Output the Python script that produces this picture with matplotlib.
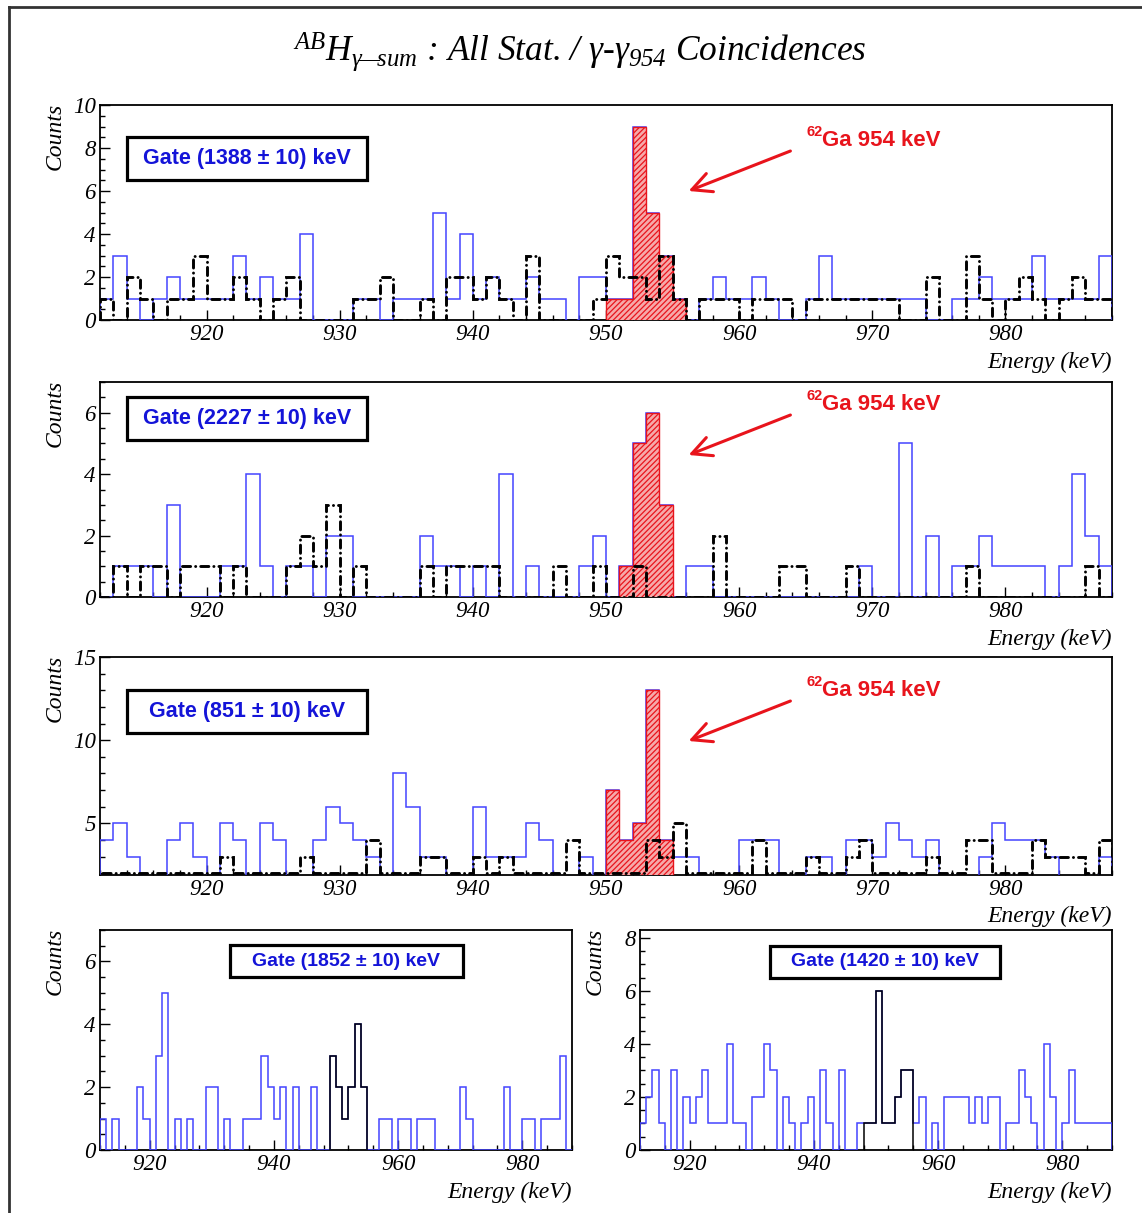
import numpy as np
import matplotlib
matplotlib.use("Agg")
import matplotlib.pyplot as plt
from matplotlib.patches import Rectangle, FancyArrowPatch
from matplotlib.lines import Line2D
from matplotlib.ticker import MultipleLocator

# bin edges (1 keV bins, 912..988 keV)
edges = np.arange(912, 989)

# ---- gate 1388 keV
g1388 = [1, 3, 1, 0, 1, 2, 1, 1, 1, 1,
         3, 1, 2, 1, 1, 4, 0, 0, 0, 1,
         1, 0, 1, 1, 1, 5, 1, 4, 1, 2,
         1, 1, 2, 1, 1, 0, 2, 2, 1, 1,
         9, 5, 3, 1, 0, 1, 2, 1, 1, 2,
         1, 0, 0, 1, 3, 1, 1, 1, 1, 1,
         1, 1, 0, 0, 1, 1, 2, 1, 1, 1,
         3, 1, 1, 1, 1, 3]
bg1388 = [1, 0, 2, 1, 0, 1, 1, 3, 1, 1,
          2, 1, 0, 1, 2, 0, 0, 0, 0, 1,
          1, 2, 0, 0, 1, 0, 2, 2, 1, 2,
          1, 0, 3, 0, 0, 0, 0, 1, 3, 2,
          2, 1, 3, 1, 0, 1, 1, 1, 0, 1,
          1, 1, 0, 1, 1, 1, 1, 1, 1, 1,
          0, 0, 2, 0, 0, 3, 1, 0, 1, 2,
          1, 0, 1, 2, 1, 1]

# ---- gate 2227 keV
g2227 = [0, 1, 1, 1, 0, 3, 0, 0, 0, 1,
         1, 4, 1, 0, 1, 1, 0, 2, 2, 0,
         0, 0, 0, 0, 2, 1, 1, 0, 1, 0,
         4, 0, 1, 0, 0, 0, 1, 2, 0, 1,
         5, 6, 3, 0, 1, 1, 0, 0, 0, 0,
         0, 0, 0, 0, 0, 0, 0, 1, 0, 0,
         5, 0, 2, 0, 1, 1, 2, 1, 1, 1,
         1, 0, 1, 4, 2, 1]
bg2227 = [0, 1, 0, 1, 1, 0, 1, 1, 1, 0,
          1, 0, 0, 0, 1, 2, 1, 3, 0, 1,
          0, 0, 0, 0, 1, 0, 1, 1, 1, 1,
          0, 0, 0, 0, 1, 0, 0, 1, 0, 0,
          1, 0, 0, 0, 0, 0, 2, 0, 0, 0,
          0, 1, 1, 0, 0, 0, 1, 0, 0, 0,
          0, 0, 0, 0, 0, 1, 0, 0, 0, 0,
          0, 0, 0, 0, 1, 0]

# ---- gate 851 keV
g851 = [4, 5, 3, 0, 0, 4, 5, 3, 0, 5,
        4, 0, 5, 4, 0, 0, 4, 6, 5, 4,
        3, 0, 8, 6, 3, 3, 0, 0, 6, 3,
        3, 3, 5, 4, 0, 0, 3, 0, 7, 4,
        5, 13, 4, 3, 3, 0, 0, 0, 4, 4,
        4, 0, 0, 3, 3, 0, 4, 4, 3, 5,
        4, 3, 4, 0, 0, 0, 3, 5, 4, 4,
        4, 3, 0, 0, 0, 3]
bg851 = [2, 2, 2, 2, 2, 2, 2, 2, 2, 3,
         2, 2, 2, 2, 2, 3, 2, 2, 2, 2,
         4, 2, 2, 2, 3, 3, 2, 2, 3, 2,
         3, 2, 2, 2, 2, 4, 2, 2, 2, 2,
         2, 4, 3, 5, 2, 2, 2, 2, 2, 4,
         2, 2, 2, 3, 2, 2, 3, 4, 2, 2,
         2, 2, 3, 2, 2, 4, 4, 2, 2, 2,
         4, 3, 3, 3, 2, 4]

# ---- gate 1852 keV
g1852 = [1, 0, 1, 0, 0, 0, 2, 1, 0, 3,
         5, 0, 1, 0, 1, 0, 0, 2, 2, 0,
         1, 0, 0, 1, 1, 1, 3, 2, 1, 2,
         0, 2, 0, 0, 2, 0, 0, 3, 2, 1,
         2, 4, 2, 0, 0, 1, 1, 0, 1, 1,
         0, 1, 1, 1, 0, 0, 0, 0, 2, 1,
         0, 0, 0, 0, 0, 2, 0, 0, 1, 1,
         0, 1, 1, 1, 3, 0]

# ---- gate 1420 keV
g1420 = [1, 2, 3, 1, 0, 3, 0, 2, 1, 2,
         3, 1, 1, 1, 4, 1, 1, 0, 2, 2,
         4, 3, 0, 2, 1, 0, 1, 2, 0, 3,
         1, 0, 3, 0, 0, 1, 1, 1, 6, 1,
         1, 2, 3, 3, 1, 2, 0, 1, 0, 2,
         2, 2, 2, 1, 2, 1, 2, 2, 0, 1,
         1, 3, 2, 1, 0, 4, 2, 0, 1, 3,
         1, 1, 1, 1, 1, 1]

# peak windows (keV) highlighted in each panel
peak1388 = (950, 956)
peak2227 = (951, 955)
peak851 = (950, 955)
peak1852 = (949, 955)
peak1420 = (948, 956)

W, H = 1142, 1213
fig = plt.figure(figsize=(W / 100, H / 100), dpi=100)

SERIF = "Liberation Serif"
SANS = "Liberation Sans"
BLUE = "#4444ff"
RED = "#e8141c"
plt.rcParams["mathtext.fontset"] = "custom"
plt.rcParams["mathtext.it"] = "Liberation Serif:italic"
plt.rcParams["mathtext.rm"] = "Liberation Serif:italic"
plt.rcParams["mathtext.sf"] = "Liberation Serif:italic"
plt.rcParams["hatch.linewidth"] = 0.9


def fx(x):
    return x / W


def fy(y):
    return 1 - y / H


def make_axes(x0, y0, x1, y1, ylim, ymaj, ymin, xmaj):
    ax = fig.add_axes([fx(x0), fy(y1), (x1 - x0) / W, (y1 - y0) / H])
    ax.set_xlim(912, 988)
    ax.set_ylim(*ylim)
    ax.xaxis.set_major_locator(MultipleLocator(xmaj))
    ax.xaxis.set_minor_locator(MultipleLocator(2 if xmaj == 10 else 4))
    ax.yaxis.set_major_locator(MultipleLocator(ymaj))
    ax.yaxis.set_minor_locator(MultipleLocator(ymin))
    ax.tick_params(which="both", direction="in", top=False, right=False)
    ax.tick_params(which="major", length=7, width=1, pad=3)
    ax.tick_params(which="minor", length=3.5, width=1)
    for lab in ax.get_xticklabels() + ax.get_yticklabels():
        lab.set_fontfamily(SERIF)
        lab.set_fontstyle("italic")
        lab.set_fontsize(16.5)
    for s in ax.spines.values():
        s.set_linewidth(1.3)
    return ax


def dashed_bg(ax, vals):
    p = ax.stairs(vals, edges, edgecolor="black", linewidth=2.1,
                  linestyle=(0, (2.8, 1.7, 0.05, 1.7)), zorder=5)
    p.set_capstyle("round")


def peak_fill(ax, vals, win):
    lo, hi = win
    sel = slice(lo - 912, hi - 912)
    ax.stairs(np.array(vals)[sel], edges[lo - 912:hi - 912 + 1], fill=True,
              facecolor="#f6a9a9", edgecolor=RED, hatch="//////",
              linewidth=1.0, zorder=4)


def gate_box(x0, y0, x1, y1, text, size):
    fig.add_artist(Rectangle((fx(x0), fy(y1)), (x1 - x0) / W, (y1 - y0) / H,
                             transform=fig.transFigure, facecolor="white",
                             edgecolor="black", linewidth=2.3, zorder=10))
    fig.text(fx((x0 + x1) / 2), fy((y0 + y1) / 2), text, ha="center", va="center",
             color="#1414d8", fontfamily=SANS, fontweight="bold", fontsize=size, zorder=11)


def ga_label(y):
    fig.text(fx(806), fy(y - 9), "62", ha="left", va="center", color=RED,
             fontfamily=SANS, fontweight="bold", fontsize=10.5)
    fig.text(fx(822), fy(y), "Ga 954 keV", ha="left", va="center", color=RED,
             fontfamily=SANS, fontweight="bold", fontsize=16)
    fig.add_artist(FancyArrowPatch((fx(793), fy(y + 9)), (fx(686), fy(y + 51)),
                                   transform=fig.transFigure,
                                   arrowstyle="->,head_length=0.7,head_width=0.35",
                                   mutation_scale=20, color=RED, linewidth=2.2))


def counts_label(x, y):
    fig.text(fx(x), fy(y), "Counts", rotation=90, ha="center", va="top",
             fontfamily=SERIF, fontstyle="italic", fontsize=17)


def energy_label(x, y):
    fig.text(fx(x), fy(y), "Energy (keV)", ha="right", va="center",
             fontfamily=SERIF, fontstyle="italic", fontsize=17)


# outer frame
fig.add_artist(Line2D([fx(9), fx(9)], [fy(7), 0], transform=fig.transFigure,
                      color="#333333", linewidth=2))
fig.add_artist(Line2D([fx(9), 1], [fy(7), fy(7)], transform=fig.transFigure,
                      color="#333333", linewidth=2))

# title
fig.text(fx(580), fy(52),
         r"$^{AB}H_{\gamma\!—\!sum}$ : All Stat. / $\gamma$-$\gamma_{954}$ Coincidences",
         ha="center", va="center", fontfamily=SERIF, fontstyle="italic", fontsize=25.5)

# panel 1
ax1 = make_axes(100, 105, 1112, 320, (0, 10), 2, 0.5, 10)
ax1.stairs(g1388, edges, edgecolor=BLUE, linewidth=1.1, zorder=3)
peak_fill(ax1, g1388, peak1388)
dashed_bg(ax1, bg1388)
gate_box(127, 137, 367, 180, "Gate (1388 ± 10) keV", 15.5)
ga_label(141)
counts_label(55, 103)
energy_label(1112, 362)

# panel 2
ax2 = make_axes(100, 382, 1112, 597, (0, 7), 2, 0.5, 10)
ax2.stairs(g2227, edges, edgecolor=BLUE, linewidth=1.1, zorder=3)
peak_fill(ax2, g2227, peak2227)
dashed_bg(ax2, bg2227)
gate_box(127, 397, 367, 440, "Gate (2227 ± 10) keV", 15.5)
ga_label(405)
counts_label(55, 380)
energy_label(1112, 639)

# panel 3
ax3 = make_axes(100, 657, 1112, 875, (1.9, 15), 5, 1, 10)
ax3.stairs(g851, edges, edgecolor=BLUE, linewidth=1.1, zorder=3)
peak_fill(ax3, g851, peak851)
dashed_bg(ax3, bg851)
gate_box(127, 690, 367, 733, "Gate (851 ± 10) keV", 15.5)
ga_label(691)
counts_label(55, 655)
energy_label(1112, 916)

# panel 4
ax4 = make_axes(100, 930, 572, 1150, (0, 7), 2, 0.5, 20)
ax4.stairs(g1852, edges, edgecolor=BLUE, linewidth=1.1, zorder=3)
lo, hi = peak1852
ax4.stairs(g1852[lo - 912:hi - 912], edges[lo - 912:hi - 912 + 1],
           edgecolor="black", linewidth=1.1, zorder=4)
gate_box(230, 945, 463, 977, "Gate (1852 ± 10) keV", 14)
counts_label(55, 928)
energy_label(572, 1192)

# panel 5
ax5 = make_axes(640, 930, 1112, 1150, (0, 8.3), 2, 0.5, 20)
ax5.stairs(g1420, edges, edgecolor=BLUE, linewidth=1.1, zorder=3)
lo, hi = peak1420
ax5.stairs(g1420[lo - 912:hi - 912], edges[lo - 912:hi - 912 + 1],
           edgecolor="black", linewidth=1.1, zorder=4)
gate_box(770, 946, 1000, 978, "Gate (1420 ± 10) keV", 14)
counts_label(595, 928)
energy_label(1112, 1192)

fig.savefig("out.png", dpi=100)
